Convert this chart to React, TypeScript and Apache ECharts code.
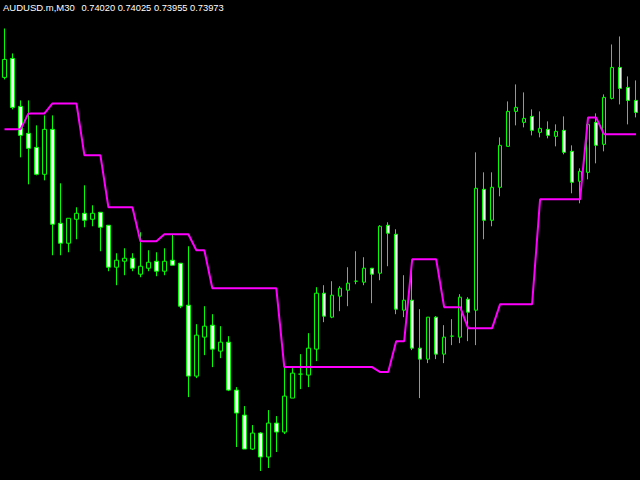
import React, { useEffect, useRef } from "react";
import * as echarts from "echarts";

// Header texts
const symbolLabel = "AUDUSD.m,M30";
const quoteLabel = "0.74020 0.74025 0.73955 0.73973";

// Candle values in points (1 point = 0.00001), relative to the lowest visible level
const openPts = [
  403, 422, 374, 347, 333, 306, 351, 257, 237, 261,
  267, 261, 268, 255, 213, 219, 222, 206, 212, 219,
  209, 220, 217, 175, 104, 143, 155, 129, 138, 90,
  65, 31, 47, 23, 57, 48, 82, 106, 105, 131,
  187, 163, 184, 190, 199, 198, 212, 207, 255, 246,
  170, 180, 132, 121, 163, 126, 144, 143, 181, 170,
  291, 260, 293, 334, 369, 358, 364, 348, 351, 344,
  350, 329, 299, 308, 358, 336, 382, 413, 393, 380,
];
const closePts = [
  421, 373, 345, 332, 306, 351, 256, 237, 262, 267,
  260, 267, 253, 213, 220, 222, 212, 214, 218, 209,
  219, 215, 174, 104, 145, 154, 131, 138, 90, 67,
  31, 47, 23, 57, 48, 84, 107, 106, 132, 187,
  164, 185, 192, 197, 199, 212, 206, 254, 247, 171,
  180, 132, 121, 163, 126, 143, 144, 183, 168, 292,
  260, 293, 335, 369, 373, 362, 350, 352, 345, 349,
  328, 298, 309, 356, 335, 383, 413, 392, 380, 368,
];
const highPts = [
  452, 427, 380, 380, 355, 365, 365, 297, 262, 273,
  295, 275, 268, 255, 227, 232, 227, 248, 230, 228,
  232, 246, 217, 234, 156, 174, 166, 154, 144, 93,
  74, 55, 48, 70, 64, 113, 112, 126, 147, 193,
  195, 199, 194, 213, 229, 223, 212, 255, 258, 251,
  205, 210, 171, 163, 164, 155, 161, 186, 183, 328,
  308, 308, 343, 379, 396, 388, 371, 369, 359, 356,
  364, 335, 312, 360, 367, 386, 436, 444, 404, 400,
];
const lowPts = [
  401, 371, 323, 296, 305, 300, 225, 225, 228, 241,
  253, 254, 229, 209, 195, 205, 209, 203, 209, 204,
  205, 215, 172, 83, 102, 125, 113, 122, 89, 33,
  31, 30, 9, 12, 28, 46, 82, 91, 93, 119,
  158, 162, 169, 174, 196, 195, 177, 200, 214, 166,
  163, 130, 82, 117, 121, 117, 135, 137, 139, 135,
  241, 254, 284, 334, 355, 353, 345, 343, 342, 334,
  326, 287, 277, 301, 317, 329, 381, 376, 356, 363,
];
// Indicator (magenta) level per bar, in points
const levelPts = [
  351, 351, 351, 367, 367, 367, 377, 377, 377, 377,
  325, 325, 325, 273, 273, 273, 273, 239, 239, 239,
  246, 246, 246, 246, 230, 230, 192, 192, 192, 192,
  192, 192, 192, 192, 192, 113, 113, 113, 113, 113,
  113, 113, 113, 113, 113, 113, 113, 108, 108, 139,
  139, 221, 221, 221, 221, 173, 173, 173, 152, 152,
  152, 152, 176, 176, 176, 176, 176, 281, 281, 281,
  281, 281, 281, 363, 363, 346, 346, 346, 346, 346,
];
const barLabels = openPts.map((_, i) => String(i + 1));

export default function App() {
  const ref = useRef<HTMLDivElement>(null);
  useEffect(() => {
    if (!ref.current) return;
    const chart = echarts.init(ref.current, null, { renderer: "svg" });
    const candles = openPts.map((o, i) => [o, closePts[i], lowPts[i], highPts[i]]);
    chart.setOption({
      animation: false,
      backgroundColor: "#000000",
      grid: { left: 0.5, top: 0.5, width: 640, height: 480 },
      xAxis: { type: "category", data: barLabels, boundaryGap: true, show: false },
      yAxis: { type: "value", min: 0, max: 480, show: false, splitLine: { show: false } },
      series: [
        {
          type: "candlestick",
          data: candles,
          barWidth: 4,
          itemStyle: {
            color: "#000000",
            color0: "#ffffff",
            borderColor: "#00ff00",
            borderColor0: "#00ff00",
            borderWidth: 1,
          },
        },
        {
          type: "line",
          data: levelPts,
          symbol: "none",
          showSymbol: false,
          z: 3,
          lineStyle: { color: "#ff00ff", width: 2 },
        },
      ],
      graphic: [
        {
          type: "text",
          x: 3,
          y: 7.5,
          z: 10,
          style: {
            text: symbolLabel,
            fill: "#ffffff",
            fontSize: 9.5,
            fontFamily: "Liberation Sans",
            verticalAlign: "middle",
            align: "left",
          },
        },
        {
          type: "text",
          x: 81.5,
          y: 7.5,
          z: 10,
          style: {
            text: quoteLabel,
            fill: "#ffffff",
            fontSize: 9.3,
            fontFamily: "Liberation Sans",
            verticalAlign: "middle",
            align: "left",
          },
        },
      ],
    });
    return () => chart.dispose();
  }, []);
  return (
    <div
      ref={ref}
      style={{ position: "fixed", left: 0, top: 0, width: 640, height: 480 }}
    />
  );
}
